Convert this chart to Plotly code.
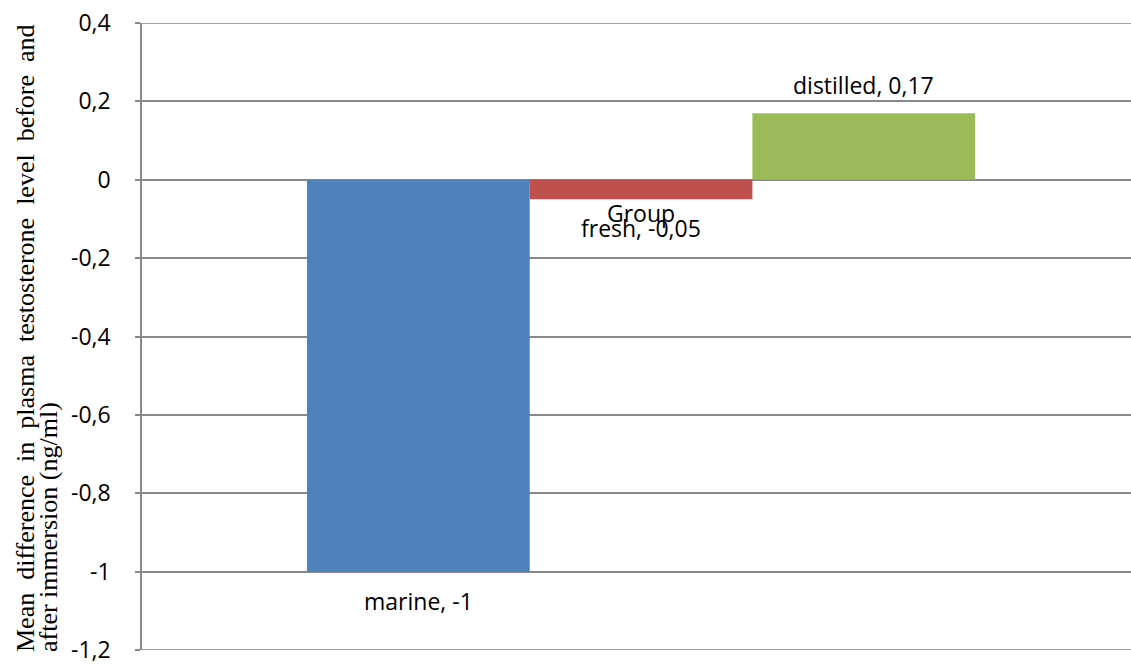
import plotly.graph_objects as go

# Water type groups and mean change in plasma testosterone (ng/ml)
categories = ["marine", "fresh", "distilled"]
values = [-1, -0.05, 0.17]
colors = ["#4F81BD", "#C0504D", "#9BBB59"]
group_label = "Group"

y_ticks = [0.4, 0.2, 0, -0.2, -0.4, -0.6, -0.8, -1, -1.2]


def fmt(v):
    # decimal comma, plain hyphen for negatives
    return f"{v:g}".replace(".", ",")


positions = list(range(len(categories)))

fig = go.Figure()
for pos, cat, val, col in zip(positions, categories, values, colors):
    fig.add_trace(go.Bar(
        x=[pos], y=[val], width=1, name=cat,
        marker=dict(color=col, line=dict(width=0)),
        hoverinfo="skip",
    ))

label_font = dict(family="Open Sans", size=23, color="#000000")

annotations = []
for pos, cat, val in zip(positions, categories, values):
    annotations.append(dict(
        x=pos, y=val, xref="x", yref="y",
        text=f"{cat}, {fmt(val)}",
        showarrow=False, font=label_font,
        xanchor="center", yanchor="middle",
        yshift=28 if val > 0 else -29,
    ))

# category label sitting just below the zero line
annotations.append(dict(
    x=(positions[0] + positions[-1]) / 2, y=0, xref="x", yref="y",
    text=group_label, showarrow=False, font=label_font,
    xanchor="center", yanchor="middle", yshift=-33,
))

# two-line rotated axis title; the first line is spread out (justified)
title_font = dict(family="Liberation Serif", size=26, color="#000000")
line1 = "Mean difference in plasma testosterone level before and".replace(" ", "\u00a0 ")
line2 = "after immersion (ng/ml)"
plot_left, plot_w = 142, 989
plot_bottom, plot_h = 650, 626.6
for text, cx in [(line1, 25), (line2, 48)]:
    annotations.append(dict(
        x=(cx - plot_left) / plot_w, y=(plot_bottom - 654) / plot_h,
        xref="paper", yref="paper", text=text, textangle=-90,
        showarrow=False, font=title_font,
        xanchor="center", yanchor="bottom",
    ))

# gridlines on the top and bottom edges of the value range
edge_lines = [
    dict(type="line", xref="paper", yref="y", x0=0, x1=1, y0=v, y1=v,
         line=dict(color="#888888", width=1.5), layer="below")
    for v in (y_ticks[0], y_ticks[-1])
]

fig.update_layout(
    width=1131, height=664,
    margin=dict(l=142, r=0, t=23, b=14),
    paper_bgcolor="white", plot_bgcolor="white",
    showlegend=False, barmode="overlay",
    annotations=annotations, shapes=edge_lines,
    xaxis=dict(
        range=[-1.241, 3.2], showgrid=False, zeroline=False,
        showticklabels=False, ticks="", showline=False, fixedrange=True,
    ),
    yaxis=dict(
        range=[-1.2, 0.4], tickvals=y_ticks, ticktext=[fmt(v) for v in y_ticks],
        showgrid=True, gridcolor="#888888", gridwidth=1.5,
        zeroline=True, zerolinecolor="#888888", zerolinewidth=1.5,
        showline=True, linecolor="#888888", linewidth=1.5,
        ticks="outside", ticklen=5, tickcolor="#888888", tickwidth=1.5,
        ticklabelstandoff=20, ticklabeloverflow="allow",
        tickfont=dict(family="Open Sans", size=23, color="#000000"),
        fixedrange=True,
    ),
)

fig.write_html("out.html")
